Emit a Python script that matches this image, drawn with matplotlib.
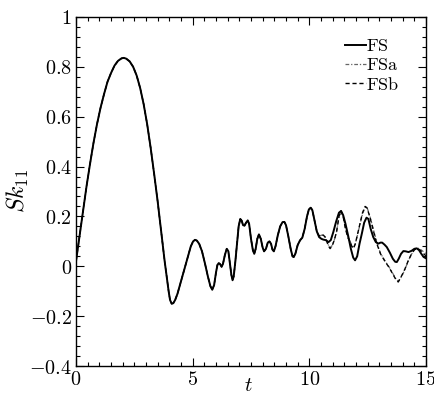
import matplotlib
matplotlib.use("Agg")
import matplotlib.pyplot as plt
from matplotlib.ticker import MultipleLocator, FuncFormatter

plt.rcParams['mathtext.fontset'] = 'cm'
plt.rcParams['font.family'] = ['DejaVu Serif']

# FS (solid)
t_fs = [0.0, 0.15, 0.3, 0.45, 0.6, 0.75, 0.9, 1.05, 1.2, 1.35, 1.5, 1.65, 1.8, 1.95,
        2.05, 2.15, 2.3, 2.45, 2.6, 2.75, 2.9, 3.05, 3.2, 3.35, 3.5, 3.6, 3.7, 3.8,
        3.9, 3.97, 4.03, 4.1, 4.17, 4.25, 4.35, 4.5, 4.65, 4.8, 4.92, 5.02, 5.1, 5.18,
        5.28, 5.4, 5.53, 5.65, 5.76, 5.84, 5.92, 6.0, 6.06, 6.12, 6.18, 6.24, 6.3,
        6.38, 6.46, 6.53, 6.6, 6.66, 6.71, 6.76, 6.83, 6.9, 6.97, 7.04, 7.1, 7.16,
        7.22, 7.29, 7.36, 7.42, 7.5, 7.58, 7.64, 7.7, 7.77, 7.84, 7.92, 8.0, 8.06,
        8.14, 8.22, 8.29, 8.36, 8.42, 8.48, 8.55, 8.65, 8.75, 8.85, 8.93, 9.0, 9.1,
        9.2, 9.28, 9.33, 9.4, 9.5, 9.6, 9.7, 9.8, 9.9, 9.98, 10.06, 10.13, 10.22,
        10.32, 10.42, 10.52, 10.6, 10.7, 10.82, 10.92, 11.03, 11.15, 11.27, 11.36,
        11.45, 11.55, 11.67, 11.78, 11.88, 11.96, 12.05, 12.15, 12.25, 12.35, 12.45,
        12.53, 12.63, 12.74, 12.85, 12.96, 13.05, 13.12, 13.22, 13.32, 13.45, 13.58,
        13.68, 13.75, 13.83, 13.93, 14.03, 14.13, 14.25, 14.38, 14.5, 14.6, 14.7,
        14.8, 14.9, 15.0]
v_fs = [0.02, 0.12, 0.22, 0.32, 0.41, 0.495, 0.57, 0.635, 0.69, 0.74, 0.775, 0.805,
        0.824, 0.834, 0.836, 0.833, 0.822, 0.80, 0.765, 0.715, 0.65, 0.57, 0.475,
        0.37, 0.26, 0.18, 0.10, 0.02, -0.05, -0.10, -0.135, -0.15, -0.148, -0.135,
        -0.11, -0.06, -0.01, 0.04, 0.08, 0.10, 0.106, 0.103, 0.09, 0.06, 0.01, -0.04,
        -0.08, -0.094, -0.075, -0.025, 0.005, 0.013, 0.008, -0.002, 0.01, 0.045, 0.07,
        0.06, 0.01, -0.035, -0.056, -0.04, 0.02, 0.09, 0.16, 0.19, 0.183, 0.165,
        0.163, 0.175, 0.184, 0.17, 0.11, 0.065, 0.05, 0.07, 0.11, 0.128, 0.11, 0.075,
        0.06, 0.07, 0.095, 0.10, 0.09, 0.067, 0.06, 0.08, 0.125, 0.16, 0.177, 0.178,
        0.165, 0.12, 0.07, 0.04, 0.037, 0.05, 0.085, 0.104, 0.115, 0.15, 0.20, 0.228,
        0.235, 0.225, 0.185, 0.14, 0.117, 0.11, 0.107, 0.105, 0.097, 0.105, 0.138,
        0.18, 0.215, 0.222, 0.205, 0.17, 0.12, 0.07, 0.035, 0.024, 0.04, 0.09, 0.131,
        0.175, 0.195, 0.19, 0.15, 0.117, 0.097, 0.091, 0.095, 0.095, 0.087, 0.077,
        0.055, 0.03, 0.018, 0.017, 0.03, 0.05, 0.061, 0.06, 0.057, 0.062, 0.07,
        0.072, 0.065, 0.05, 0.037, 0.032]

# FSb (dashed): same as FS up to t = 10.32, then these values
t_fsb_tail = [10.42, 10.52, 10.6, 10.7, 10.8, 10.89, 10.97, 11.07, 11.17, 11.27,
              11.36, 11.45, 11.55, 11.65, 11.74, 11.82, 11.89, 11.97, 12.07, 12.17,
              12.28, 12.39, 12.47, 12.57, 12.67, 12.78, 12.89, 13.05, 13.24, 13.42,
              13.6, 13.72, 13.81, 13.9, 14.0, 14.1, 14.25, 14.39, 14.5, 14.6, 14.7,
              14.8, 14.9, 15.0]
v_fsb_tail = [0.122, 0.127, 0.125, 0.115, 0.085, 0.071, 0.08, 0.105, 0.14, 0.20,
              0.222, 0.20, 0.15, 0.115, 0.10, 0.08, 0.071, 0.09, 0.13, 0.171, 0.215,
              0.24, 0.235, 0.205, 0.171, 0.13, 0.091, 0.05, 0.02, -0.005, -0.035,
              -0.055, -0.063, -0.048, -0.03, -0.01, 0.025, 0.051, 0.066, 0.071, 0.068,
              0.06, 0.05, 0.042]

# FSa (dash-dot): same as FS up to t = 10.32, then these values
t_fsa_tail = [10.42, 10.52, 10.6, 10.7, 10.8, 10.89, 10.97, 11.07, 11.17, 11.27,
              11.36, 11.45, 11.55, 11.65, 11.74, 11.82, 11.89, 11.97, 12.07, 12.17,
              12.28, 12.39, 12.47, 12.57, 12.67, 12.78, 12.89, 13.05, 13.24, 13.42,
              13.6, 13.72, 13.81, 13.9, 14.0, 14.1, 14.25, 14.39, 14.5, 14.6, 14.7,
              14.8, 14.9, 15.0]
v_fsa_tail = [0.12, 0.125, 0.124, 0.115, 0.088, 0.075, 0.082, 0.105, 0.14, 0.198,
              0.22, 0.20, 0.152, 0.118, 0.102, 0.083, 0.074, 0.09, 0.128, 0.168,
              0.21, 0.236, 0.236, 0.21, 0.175, 0.135, 0.095, 0.052, 0.022, -0.003,
              -0.032, -0.052, -0.06, -0.05, -0.032, -0.012, 0.024, 0.05, 0.066, 0.072,
              0.072, 0.065, 0.058, 0.05]

t_split = 10.32
t_head = [t for t in t_fs if t <= t_split]
v_head = [v for t, v in zip(t_fs, v_fs) if t <= t_split]
t_fsb = t_head + t_fsb_tail
v_fsb = v_head + v_fsb_tail
t_fsa = t_head + t_fsa_tail
v_fsa = v_head + v_fsa_tail

fig = plt.figure(figsize=(4.35, 3.96), dpi=100)
ax = fig.add_axes([76/435, 1-366/396, 350/435, 349/396])

ax.plot(t_fsa, v_fsa, color='#666666', lw=0.9, ls=(0, (3, 1.5, 1, 1.5)),
        label=r'$\mathrm{FSa}$', zorder=2)
ax.plot(t_fsb, v_fsb, color='black', lw=1.0, ls=(0, (3, 2)),
        label=r'$\mathrm{FSb}$', zorder=2)
ax.plot(t_fs, v_fs, color='black', lw=1.4, ls='-', label=r'$\mathrm{FS}$', zorder=3)

ax.set_xlim(0, 15)
ax.set_ylim(-0.4, 1.0)
ax.xaxis.set_major_locator(MultipleLocator(5))
ax.xaxis.set_minor_locator(MultipleLocator(0.5))
ax.yaxis.set_major_locator(MultipleLocator(0.2))
ax.yaxis.set_minor_locator(MultipleLocator(0.04))

def fmt(x, pos):
    s = '%g' % round(x, 6)
    if s == '-0':
        s = '0'
    return r'$%s$' % s

ax.xaxis.set_major_formatter(FuncFormatter(fmt))
ax.yaxis.set_major_formatter(FuncFormatter(fmt))
ax.tick_params(which='both', direction='in', top=True, right=True, labelsize=14.5, width=0.8)
ax.tick_params(which='major', length=6, pad=3)
ax.tick_params(which='minor', length=3)
for sp in ax.spines.values():
    sp.set_linewidth(1.0)

ax.set_xlabel(r'$t$', fontsize=15)
ax.xaxis.set_label_coords(0.493, -0.028)
ax.set_ylabel(r'$Sk_{11}$', fontsize=17)
ax.yaxis.set_label_coords(-0.128, 0.5)

handles, labels = ax.get_legend_handles_labels()
order = [2, 0, 1]
leg = ax.legend([handles[i] for i in order], [labels[i] for i in order],
                loc='upper left', frameon=False, fontsize=13, handlelength=1.15,
                handletextpad=0.05, labelspacing=0.08, borderaxespad=0.0, borderpad=0.0,
                bbox_to_anchor=(0.768, 0.943))

fig.savefig('out.png', dpi=100)
